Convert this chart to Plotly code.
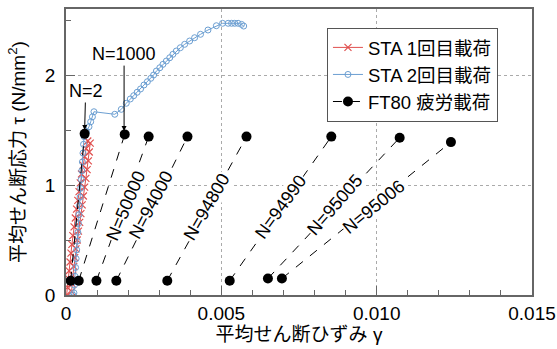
import plotly.graph_objects as go

FONT = "Liberation Sans, Arial, Noto Sans CJK JP, sans-serif"

# STA 1st loading (red x)
sta1_x = [0.00002, 0.00005, 0.00008, 0.00010, 0.00013, 0.00016, 0.00019, 0.00022, 0.00026, 0.00030,
          0.00034, 0.00038, 0.00042, 0.00046, 0.00050, 0.00055, 0.00060, 0.00065, 0.00070,
          0.00078, 0.00075, 0.00072, 0.00068, 0.00064, 0.00060, 0.00056, 0.00052, 0.00048,
          0.00044, 0.00040, 0.00036, 0.00032, 0.00028, 0.00025, 0.00022, 0.00020, 0.00018]
sta1_y = [0.00, 0.07, 0.15, 0.22, 0.30, 0.38, 0.46, 0.54, 0.62, 0.70,
          0.78, 0.86, 0.94, 1.02, 1.10, 1.18, 1.26, 1.33, 1.40,
          1.38, 1.30, 1.22, 1.14, 1.06, 0.98, 0.90, 0.82, 0.74,
          0.66, 0.58, 0.50, 0.42, 0.34, 0.26, 0.18, 0.10, 0.03]

# STA 2nd loading (blue open circles)
sta2_x = [0.00022, 0.000255, 0.000271, 0.000289, 0.000308, 0.000326, 0.000344, 0.000363, 0.000381, 0.0004,
          0.000418, 0.000436, 0.000455, 0.000473, 0.000492, 0.00051, 0.000528, 0.000547, 0.000565, 0.000581,
          0.000657, 0.00074, 0.000795, 0.00085, 0.0009,
          0.00157, 0.00178, 0.00194, 0.00207, 0.00218, 0.00229, 0.00240, 0.00251, 0.00262, 0.00273,
          0.00282, 0.00291, 0.00302, 0.00312, 0.00323, 0.00334, 0.00344, 0.00355, 0.00368, 0.00382,
          0.00398, 0.00414, 0.00433, 0.00457, 0.00484, 0.00504, 0.00522, 0.00533, 0.00543, 0.00554,
          0.00565, 0.00572]
sta2_y = [0.00, 0.02, 0.09, 0.17, 0.25, 0.33, 0.41, 0.49, 0.57, 0.65,
          0.73, 0.81, 0.89, 0.97, 1.05, 1.13, 1.21, 1.29, 1.37, 1.44,
          1.485, 1.53, 1.575, 1.62, 1.666,
          1.643, 1.688, 1.743, 1.782, 1.812, 1.843, 1.873, 1.909, 1.939, 1.970,
          2.000, 2.036, 2.066, 2.097, 2.127, 2.157, 2.188, 2.218, 2.248, 2.279,
          2.309, 2.339, 2.370, 2.409, 2.448, 2.470, 2.470, 2.470, 2.470, 2.470,
          2.460, 2.445]

# FT80 fatigue loading: (bottom, top) of each cycle
ft_cycles = ["N=2", "N=1000", "N=50000", "N=94000", "N=94800", "N=94990", "N=95005", "N=95006"]
ft_x_bottom = [0.00015, 0.00041, 0.00098, 0.00162, 0.00326, 0.00527, 0.00650, 0.00695]
ft_y_bottom = [0.13, 0.13, 0.13, 0.13, 0.13, 0.13, 0.15, 0.15]
ft_x_top = [0.00060, 0.00189, 0.00266, 0.00391, 0.00581, 0.00854, 0.01074, 0.01239]
ft_y_top = [1.465, 1.46, 1.44, 1.44, 1.44, 1.44, 1.43, 1.39]

# rotated labels (centre, angle) for cycles 3..8
lab_x = [0.00192, 0.00273, 0.00453, 0.00691, 0.00865, 0.00990]
lab_y = [0.81, 0.82, 0.80, 0.80, 0.82, 0.80]
lab_angle = [-67, -62, -60, -54, -49, -39]

x_ticks = [0, 0.005, 0.010, 0.015]
x_ticktext = ["0", "0.005", "0.010", "0.015"]
y_ticks = [0, 1, 2]
y_ticktext = ["0", "1", "2"]

RED = "#e0504f"
BLUE = "#6c9fd2"

fig = go.Figure()
fig.add_trace(go.Scatter(
    x=sta1_x, y=sta1_y, mode="lines+markers", name="STA 1回目載荷",
    line=dict(color=RED, width=1),
    marker=dict(symbol="x-thin", size=7, line=dict(color=RED, width=1.2)),
))
fig.add_trace(go.Scatter(
    x=sta2_x, y=sta2_y, mode="lines+markers", name="STA 2回目載荷",
    line=dict(color=BLUE, width=1),
    marker=dict(symbol="circle-open", size=6, color=BLUE, line=dict(color=BLUE, width=1)),
))
fx, fy = [], []
for xb, yb, xt, yt in zip(ft_x_bottom, ft_y_bottom, ft_x_top, ft_y_top):
    fx += [xb, xt, None]
    fy += [yb, yt, None]
fig.add_trace(go.Scatter(
    x=fx, y=fy, mode="lines+markers", name="FT80 疲労載荷",
    line=dict(color="black", width=1, dash="dash"),
    marker=dict(symbol="circle", size=10, color="black"),
    connectgaps=False,
))

for t, x, y, a in zip(ft_cycles[2:], lab_x, lab_y, lab_angle):
    fig.add_annotation(x=x, y=y, text=t, showarrow=False, textangle=a,
                       font=dict(size=18, color="black", family=FONT),
                       bgcolor="white", borderpad=0)

# arrow annotations for N=2 and N=1000
fig.add_annotation(x=ft_x_top[0], y=1.50, text=ft_cycles[0], showarrow=True,
                   ax=1, ay=-39, arrowhead=2, arrowsize=1, arrowwidth=1, arrowcolor="black",
                   font=dict(size=18, color="black", family=FONT))
fig.add_annotation(x=ft_x_top[1] - 0.00002, y=1.49, text=ft_cycles[1], showarrow=True,
                   ax=0, ay=-77, arrowhead=2, arrowsize=1, arrowwidth=1, arrowcolor="black",
                   font=dict(size=18, color="black", family=FONT))

fig.update_layout(
    width=557, height=349,
    margin=dict(l=66, r=25, t=9, b=54),
    paper_bgcolor="white", plot_bgcolor="white",
    font=dict(family=FONT, size=19, color="black"),
    showlegend=True,
    legend=dict(x=0.56, y=0.934, xanchor="left", yanchor="top",
                bgcolor="white", bordercolor="#555555", borderwidth=1,
                font=dict(size=18.5, family=FONT), tracegroupgap=0, itemwidth=30),
    xaxis=dict(
        range=[0, 0.015], tickvals=x_ticks, ticktext=x_ticktext, automargin=False,
        showline=True, mirror=True, linecolor="#666666", linewidth=1.5,
        ticks="inside", ticklen=9, tickcolor="#666666", tickwidth=1,
        showgrid=True, gridcolor="#aaaaaa", griddash="dot", gridwidth=1,
        zeroline=False, ticklabeloverflow="allow",
        minor=dict(dtick=0.001, ticks="inside", ticklen=5, tickcolor="#666666", showgrid=False),
        title=dict(text="平均せん断ひずみ γ", font=dict(size=19), standoff=0),
        tickfont=dict(size=19),
    ),
    yaxis=dict(
        range=[0, 2.6], tickvals=y_ticks, ticktext=y_ticktext, automargin=False,
        showline=True, mirror=True, linecolor="#666666", linewidth=1.5,
        ticks="inside", ticklen=9, tickcolor="#666666", tickwidth=1,
        showgrid=True, gridcolor="#aaaaaa", griddash="dot", gridwidth=1,
        zeroline=False, ticklabelstandoff=5, ticklabeloverflow="allow",
        minor=dict(dtick=0.5, ticks="inside", ticklen=5, tickcolor="#666666", showgrid=False),
        title=dict(text="平均せん断応力 τ (N/mm<sup>2</sup>)", font=dict(size=19), standoff=14),
        tickfont=dict(size=19),
    ),
)

# remove the default 8px body margin so the figure fills the window exactly
fig.write_html("out.html", config={"displayModeBar": False},
               post_script="document.body.style.margin='0';")
